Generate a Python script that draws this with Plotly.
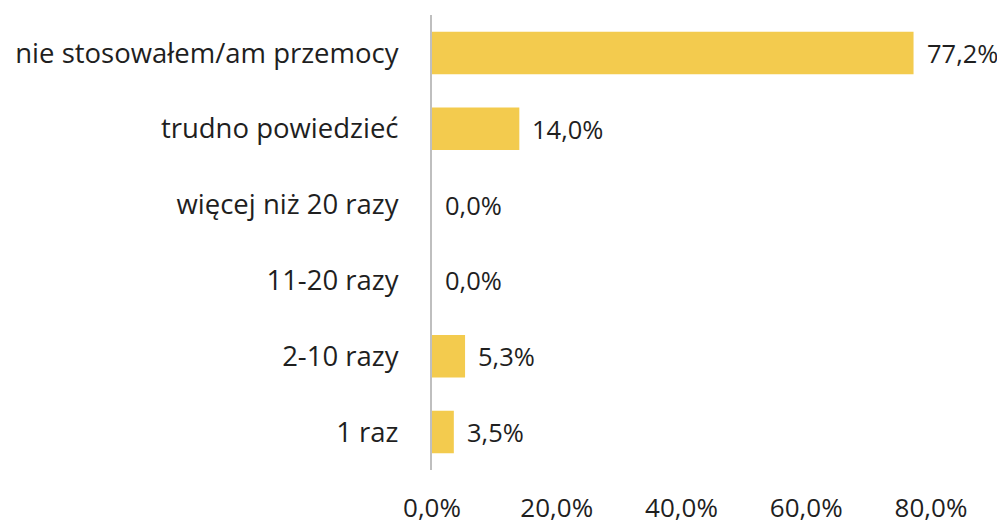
import plotly.graph_objects as go

categories = ["nie stosowałem/am przemocy", "trudno powiedzieć", "więcej niż 20 razy",
              "11-20 razy", "2-10 razy", "1 raz"]
values = [77.2, 14.0, 0.0, 0.0, 5.3, 3.5]
tick_vals = [0, 20, 40, 60, 80]
tick_text = [f"{v:.1f}%".replace(".", ",") for v in tick_vals]

FONT = "Open Sans"
TXT = "#1f1f1f"

fig = go.Figure(go.Bar(
    y=categories, x=values, orientation="h",
    marker=dict(color="#F3CB4E", line=dict(width=0)),
    width=0.56,
    hoverinfo="skip",
))

for c, v in zip(categories, values):
    fig.add_annotation(x=v, y=c, text=f"{v:.1f}%".replace(".", ","),
                       xanchor="left", yanchor="middle", xshift=11, showarrow=False,
                       font=dict(family=FONT, size=25.5, color=TXT))

fig.update_layout(
    width=1005, height=524,
    margin=dict(l=418, r=82, t=7, b=40),
    paper_bgcolor="white", plot_bgcolor="white",
    showlegend=False,
    font=dict(family=FONT, size=27.5, color=TXT),
)
fig.update_xaxes(range=[0, 80], tickvals=tick_vals, ticktext=tick_text,
                 showgrid=False, zeroline=False, showline=False,
                 ticklabelstandoff=20, tickfont=dict(family=FONT, size=26, color=TXT))
fig.update_yaxes(autorange="reversed", showgrid=False, zeroline=False,
                 showline=True, linecolor="#BFBFBF", linewidth=2,
                 ticklabelstandoff=26, tickfont=dict(family=FONT, size=27.5, color=TXT))

fig.write_html("out.html")
